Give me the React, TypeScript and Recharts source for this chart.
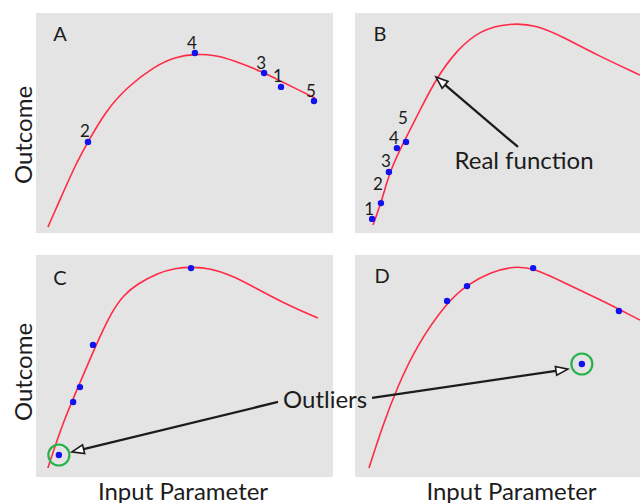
import React from 'react';
import {
  ComposedChart,
  Line,
  Scatter,
  XAxis,
  YAxis,
  CartesianGrid,
  ReferenceLine,
  ReferenceDot,
} from 'recharts';

// ---------------- data (units 0..10 on each panel) ----------------
// Panel A
const curveAX = [0.4, 0.88, 1.31, 1.75, 2.32, 3.1, 4.01, 4.68, 5.35, 6.03, 6.63, 7.64, 8.22, 9.39];
const curveAY = [0.27, 1.73, 3.05, 4.14, 5.5, 6.68, 7.59, 8.0, 8.14, 8.09, 7.86, 7.32, 6.91, 6.14];
const pointsAX = [8.25, 1.75, 7.68, 5.35, 9.36];
const pointsAY = [6.64, 4.14, 7.27, 8.18, 6.0];
const pointsALabels = ['1', '2', '3', '4', '5'];

// Panel B
const curveBX = [0.63, 0.95, 1.23, 1.75, 2.28, 2.88, 3.58, 4.39, 5.44, 6.39, 7.3, 8.49, 10.0];
const curveBY = [0.36, 1.5, 2.86, 4.23, 5.59, 7.09, 8.32, 9.23, 9.55, 9.45, 8.91, 8.09, 7.18];
const pointsBX = [0.6, 0.91, 1.19, 1.47, 1.79];
const pointsBY = [0.64, 1.36, 2.77, 3.86, 4.14];
const pointsBLabels = ['1', '2', '3', '4', '5'];

// Panel C
const curveCX = [0.4, 0.91, 1.45, 2.02, 2.56, 2.96, 3.4, 4.11, 4.68, 5.25, 5.86, 6.63, 7.21, 8.32, 9.49];
const curveCY = [0.41, 2.48, 4.14, 5.95, 7.48, 8.2, 8.69, 9.19, 9.41, 9.46, 9.41, 9.05, 8.65, 7.84, 7.16];
const pointsCX = [0.77, 1.25, 1.48, 1.92, 5.22];
const pointsCY = [0.99, 3.38, 4.05, 5.95, 9.41];
const outlierC = { x: 0.77, y: 0.99 };

// Panel D
const curveDX = [0.49, 0.98, 1.47, 2.18, 3.23, 3.93, 4.74, 5.61, 6.25, 7.3, 8.49, 10.0];
const curveDY = [0.41, 2.34, 4.01, 5.95, 7.88, 8.65, 9.23, 9.5, 9.41, 8.78, 8.06, 7.07];
const pointsDX = [3.23, 3.93, 6.25, 9.26, 7.96];
const pointsDY = [7.93, 8.6, 9.41, 7.48, 5.09];
const outlierD = { x: 7.96, y: 5.09 };

// annotation anchors (data units)
const realFnArrow = { x1: 5.72, y1: 3.91, x2: 2.84, y2: 7.09 };
const realFnText = { x: 5.93, y: 3.32 };
const outlierArrowC = { x1: 8.15, y1: 3.38, x2: 1.21, y2: 1.13 };
const outlierArrowD = { x1: 0.6, y1: 3.56, x2: 7.47, y2: 4.86 };
const panelLetters = [
  { x: 0.81, y: 9.09, t: 'A' },
  { x: 0.88, y: 9.09, t: 'B' },
  { x: 0.81, y: 9.01, t: 'C' },
  { x: 0.95, y: 9.1, t: 'D' },
];

// ---------------- styles ----------------
const FONT = "Lato, 'Open Sans', sans-serif";
const BG = '#e4e4e4';
const RED = '#ff2a45';
const BLUE = '#1212ee';
const GREEN = '#27b34a';
const INK = '#1c1c1c';
const CURVE = 'basis' as const;
const labelDyA = [-11, -11, -11, -11, -11];
const labelDyB = [-10, -20, -12, -11, -24];

const zip = (xs: number[], ys: number[], labels?: string[]) =>
  xs.map((x, i) => ({ x, y: ys[i], label: labels ? labels[i] : '', i }));

const pointShape = (dys?: number[]) => (props: any) => {
  const { cx, cy, payload } = props;
  if (cx == null || cy == null) return <g />;
  return (
    <g>
      <circle cx={cx} cy={cy} r={3.2} fill={BLUE} />
      {payload && payload.label ? (
        <text
          x={cx - 3}
          y={cy + (dys ? dys[payload.i] : -11)}
          textAnchor="middle"
          dominantBaseline="central"
          fontSize={17}
          fontFamily={FONT}
          fill={INK}
        >
          {payload.label}
        </text>
      ) : null}
    </g>
  );
};

const arrowShape = (props: any) => {
  const { x1, y1, x2, y2 } = props;
  const ang = Math.atan2(y2 - y1, x2 - x1);
  const len = 12;
  const half = 4.5;
  const bx = x2 - len * Math.cos(ang);
  const by = y2 - len * Math.sin(ang);
  const px = -Math.sin(ang) * half;
  const py = Math.cos(ang) * half;
  return (
    <g>
      <line x1={x1} y1={y1} x2={bx} y2={by} stroke={INK} strokeWidth={2.3} />
      <polygon
        points={`${x2},${y2} ${bx + px},${by + py} ${bx - px},${by - py}`}
        fill="#ffffff"
        stroke={INK}
        strokeWidth={1.6}
        strokeLinejoin="miter"
      />
    </g>
  );
};

const textShape = (t: string, size: number, dx = 0, dy = 0) => (props: any) => (
  <text
    x={props.cx + dx}
    y={props.cy + dy}
    textAnchor="middle"
    dominantBaseline="central"
    fontSize={size}
    fontFamily={FONT}
    fill={INK}
  >
    {t}
  </text>
);

const axisTitle = (text: string, vertical: boolean, dx: number, dy: number) => (props: any) => {
  const vb = props.viewBox || { x: 0, y: 0, width: 0, height: 0 };
  const cx = vb.x + vb.width / 2 + dx;
  const cy = vb.y + vb.height / 2 + dy;
  return (
    <text
      x={cx}
      y={cy}
      textAnchor="middle"
      dominantBaseline="central"
      transform={vertical ? `rotate(-90, ${cx}, ${cy})` : undefined}
      fontSize={24}
      fontFamily={FONT}
      fill={INK}
    >
      {text}
    </text>
  );
};

const seg = (a: { x1: number; y1: number; x2: number; y2: number }) => [
  { x: a.x1, y: a.y1 },
  { x: a.x2, y: a.y2 },
];

const pos = (left: number, top: number): React.CSSProperties => ({ position: 'absolute', left, top });

export default function App() {
  const dataCurveA = zip(curveAX, curveAY);
  const dataCurveB = zip(curveBX, curveBY);
  const dataCurveC = zip(curveCX, curveCY);
  const dataCurveD = zip(curveDX, curveDY);
  const dataPtsA = zip(pointsAX, pointsAY, pointsALabels);
  const dataPtsB = zip(pointsBX, pointsBY, pointsBLabels);
  const dataPtsC = zip(pointsCX, pointsCY);
  const dataPtsD = zip(pointsDX, pointsDY);

  const xAxisHidden = <XAxis dataKey="x" type="number" domain={[0, 10]} hide />;
  const yAxisHidden = <YAxis dataKey="y" type="number" domain={[0, 10]} hide />;

  return (
    <div
      style={{
        position: 'absolute',
        left: 0,
        top: 0,
        width: 640,
        height: 503,
        background: '#ffffff',
        overflow: 'hidden',
        fontFamily: FONT,
      }}
    >
      {/* Panel A */}
      <div style={pos(0, 0)}>
        <ComposedChart width={340} height={245} margin={{ top: 13, right: 7, bottom: 12, left: 0 }}>
          <CartesianGrid fill={BG} stroke="none" horizontal={false} vertical={false} />
          {xAxisHidden}
          <YAxis
            dataKey="y"
            type="number"
            domain={[0, 10]}
            width={36}
            tick={false}
            axisLine={false}
            tickLine={false}
            label={axisTitle('Outcome', true, 4, 12)}
          />
          <Line data={dataCurveA} dataKey="y" type={CURVE} stroke={RED} strokeWidth={1.6} dot={false} isAnimationActive={false} />
          <Scatter data={dataPtsA} dataKey="y" shape={pointShape(labelDyA)} isAnimationActive={false} />
          <ReferenceDot x={panelLetters[0].x} y={panelLetters[0].y} r={1} shape={textShape(panelLetters[0].t, 20)} />
        </ComposedChart>
      </div>

      {/* Panel B */}
      <div style={pos(340, 0)}>
        <ComposedChart width={300} height={245} margin={{ top: 13, right: 0, bottom: 12, left: 15 }}>
          <CartesianGrid fill={BG} stroke="none" horizontal={false} vertical={false} />
          {xAxisHidden}
          {yAxisHidden}
          <Line data={dataCurveB} dataKey="y" type={CURVE} stroke={RED} strokeWidth={1.6} dot={false} isAnimationActive={false} />
          <Scatter data={dataPtsB} dataKey="y" shape={pointShape(labelDyB)} isAnimationActive={false} />
          <ReferenceLine segment={seg(realFnArrow)} shape={arrowShape} ifOverflow="visible" />
          <ReferenceDot x={realFnText.x} y={realFnText.y} r={1} shape={textShape('Real function', 24)} />
          <ReferenceDot x={panelLetters[1].x} y={panelLetters[1].y} r={1} shape={textShape(panelLetters[1].t, 20)} />
        </ComposedChart>
      </div>

      {/* Panel C */}
      <div style={pos(0, 245)}>
        <ComposedChart width={340} height={258} margin={{ top: 10, right: 7, bottom: 0, left: 0 }}>
          <CartesianGrid fill={BG} stroke="none" horizontal={false} vertical={false} />
          <XAxis
            dataKey="x"
            type="number"
            domain={[0, 10]}
            height={26}
            tick={false}
            axisLine={false}
            tickLine={false}
            label={axisTitle('Input Parameter', false, -1.5, 0)}
          />
          <YAxis
            dataKey="y"
            type="number"
            domain={[0, 10]}
            width={36}
            tick={false}
            axisLine={false}
            tickLine={false}
            label={axisTitle('Outcome', true, 4, 6)}
          />
          <Line data={dataCurveC} dataKey="y" type={CURVE} stroke={RED} strokeWidth={1.6} dot={false} isAnimationActive={false} />
          <Scatter data={dataPtsC} dataKey="y" shape={pointShape()} isAnimationActive={false} />
          <ReferenceDot x={outlierC.x} y={outlierC.y} r={10.5} fill="none" stroke={GREEN} strokeWidth={2.2} />
          <ReferenceLine segment={seg(outlierArrowC)} shape={arrowShape} ifOverflow="visible" />
          <ReferenceDot x={panelLetters[2].x} y={panelLetters[2].y} r={1} shape={textShape(panelLetters[2].t, 20)} />
        </ComposedChart>
      </div>

      {/* Panel D */}
      <div style={pos(340, 245)}>
        <ComposedChart width={300} height={258} margin={{ top: 10, right: 0, bottom: 0, left: 15 }}>
          <CartesianGrid fill={BG} stroke="none" horizontal={false} vertical={false} />
          <XAxis
            dataKey="x"
            type="number"
            domain={[0, 10]}
            height={26}
            tick={false}
            axisLine={false}
            tickLine={false}
            label={axisTitle('Input Parameter', false, 14, 0)}
          />
          {yAxisHidden}
          <Line data={dataCurveD} dataKey="y" type={CURVE} stroke={RED} strokeWidth={1.6} dot={false} isAnimationActive={false} />
          <Scatter data={dataPtsD} dataKey="y" shape={pointShape()} isAnimationActive={false} />
          <ReferenceDot x={outlierD.x} y={outlierD.y} r={10.5} fill="none" stroke={GREEN} strokeWidth={2.2} />
          <ReferenceLine segment={seg(outlierArrowD)} shape={arrowShape} ifOverflow="visible" />
          <ReferenceDot x={panelLetters[3].x} y={panelLetters[3].y} r={1} shape={textShape(panelLetters[3].t, 20)} />
        </ComposedChart>
      </div>

      {/* shared annotation text spanning panels C and D */}
      <div
        style={{
          position: 'absolute',
          left: 283,
          top: 386,
          fontSize: 24,
          lineHeight: '26px',
          color: INK,
          fontFamily: FONT,
          whiteSpace: 'nowrap',
        }}
      >
        Outliers
      </div>
    </div>
  );
}
